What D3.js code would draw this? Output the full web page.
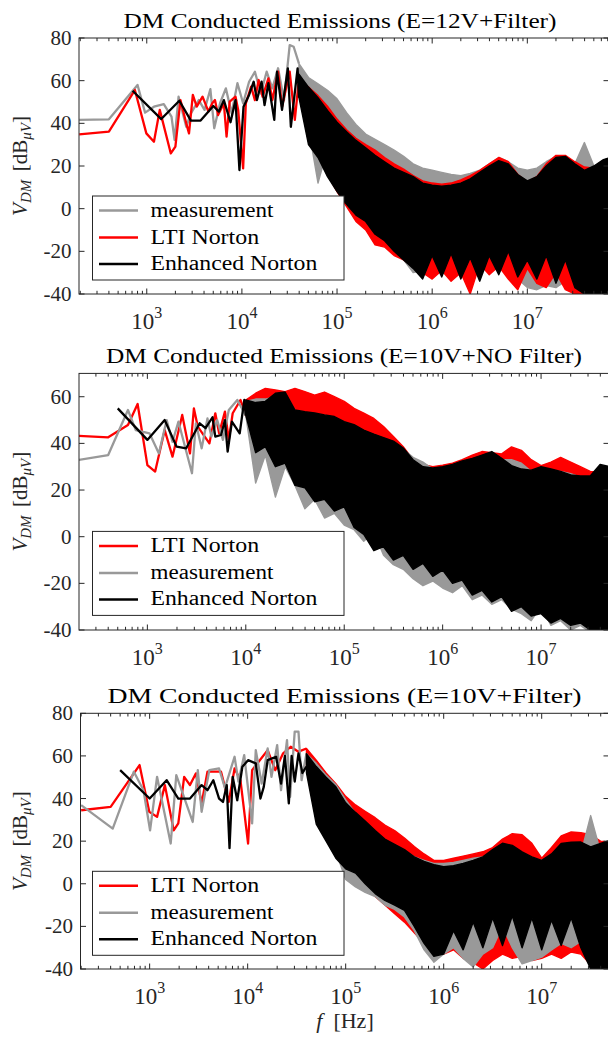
<!DOCTYPE html>
<html>
<head>
<meta charset="utf-8">
<script src="https://cdn.jsdelivr.net/npm/d3@7"></script>
<style>
  body { margin: 0; background: #fff; }
</style>
</head>
<body>
<svg id="chart" width="608" height="1040" font-family="'Liberation Serif', 'Times New Roman', serif"></svg>
<script>
// ---- panel 1: E=12V + Filter ----
const p1MeasF = [195, 400, 800, 960, 1190, 1510, 1820, 1960, 2160, 2600, 2910, 3520, 4050, 4660, 5120, 5890, 6780, 7800, 8980, 10300, 11900, 13700, 15800, 18200, 20900, 24000, 27700, 31800, 35000, 39800];
const p1MeasV = [41.6, 41.9, 58, 45, 47.8, 49, 43.1, 32.2, 52.5, 38.4, 44.7, 50.9, 46.3, 56, 37.7, 49.4, 56.4, 44.7, 58.8, 49.4, 59.5, 64.2, 54, 64.2, 56.4, 65.8, 50.9, 76.7, 75.9, 68];
const p1LtiF = [195, 400, 750, 990, 1190, 1370, 1790, 2000, 2260, 2600, 2780, 3050, 3350, 3860, 4450, 4880, 5210, 5620, 6460, 6900, 7440, 8570, 9140, 10300, 11000, 12500, 13700, 15000, 16500, 19000, 20900, 24000, 26400, 31800, 36000, 39800];
const p1LtiV = [34.8, 36.1, 55.6, 35.3, 31.4, 46.3, 25.9, 29.1, 50.9, 40, 35.3, 53.3, 47.8, 52.5, 45.5, 49.4, 50.9, 43.9, 49.4, 33.8, 50.2, 52.5, 46.3, 18.9, 49.4, 57.2, 50.9, 60.3, 52.5, 61.1, 50.9, 64.2, 47.8, 64.2, 41.6, 61];
const p1EnhF = [710, 1420, 2200, 2910, 3680, 5010, 5730, 6460, 7590, 8570, 9420, 10400, 11900, 13300, 14400, 16100, 17300, 19000, 21900, 23400, 26400, 30400, 32700, 38500, 39800];
const p1EnhV = [55.3, 42, 50.6, 41.3, 41.3, 48.1, 45.5, 50.9, 40.5, 50.9, 18.1, 47.8, 53.3, 59.5, 50.9, 59.5, 48.6, 58.8, 41.6, 64.2, 46.3, 65.8, 38.4, 65.8, 52];

// dense part above ~40 kHz: upper / lower envelope of each trace
const p1BandF = [3.98e4, 5.01e4, 6.31e4, 7.94e4, 1e5, 1.26e5, 1.58e5, 2e5, 2.51e5, 3.16e5, 3.98e5, 5.01e5, 6.31e5, 7.94e5, 1e6, 1.26e6, 1.58e6, 2e6, 2.51e6, 3.16e6, 3.98e6, 5.01e6, 6.31e6, 7.94e6, 1e7, 1.26e7, 1.58e7, 2e7, 2.51e7, 3.16e7, 3.98e7, 5.01e7, 6.31e7, 7.4e7];
const p1MeasHi = [68, 61.5, 58.5, 55.5, 51.5, 45, 39.5, 35, 32.5, 30, 27.5, 24.5, 21, 19, 18, 17, 16, 15.5, 16.5, 18, 21, 24, 22, 19, 18, 19, 22, 24.5, 24, 21, 31, 20, 19, 20];
const p1MeasLo = [60, 38, 12, 28, 20, 12, 5, -2, -8, -14, -20, -24, -30, -29, -25, -22, -24, -21, -23, -22, -24, -26, -30, -33, -37, -38, -36, -37, -34, -38, -40, -41, -41, -41];
const p1LtiHi = [61, 57, 53, 48, 42, 37, 33, 30, 27.5, 24, 21, 18.5, 15.5, 13, 12, 11.5, 12, 13.5, 15.5, 18, 21, 24, 22, 16, 12.5, 15, 21, 25, 25, 22, 19.5, 19, 20, 21];
const p1LtiLo = [55, 33, 26, 16, 8, 1, -6, -10, -17, -18, -22, -24, -27, -30, -33, -29, -34, -30, -40, -26, -31, -27, -33, -38, -28, -35, -37, -30, -38, -40, -41, -41, -41, -41];
const p1EnhHi = [63, 57, 52, 46, 40.5, 36, 32, 28.5, 25, 22, 19, 17, 15, 12, 11, 10.5, 11, 12, 14, 17, 20, 22.5, 21, 16, 13, 15, 20, 24, 24.5, 21, 18, 20, 23, 24];
const p1EnhLo = [52, 30, 24, 15, 8, 2, -3, -6, -12, -15, -20, -24, -28, -33, -22, -32, -21, -33, -23, -34, -22, -31, -20, -32, -24, -33, -22, -35, -24, -37, -40, -41, -41, -41];

// ---- panel 2: E=10V + NO Filter ----
const p2LtiF = [200, 400, 635, 796, 1000, 1200, 1500, 1800, 2260, 2710, 2970, 3250, 4270, 4900, 5360, 6140, 6720, 7360, 8830, 10000];
const p2LtiV = [43.2, 42.6, 47.9, 56.9, 30.7, 27.9, 45.7, 34.3, 52.2, 35.7, 55, 47.2, 40, 52.9, 44.3, 53.6, 41.5, 52.9, 58.6, 52];
const p2MeasF = [200, 400, 635, 762, 1050, 1310, 1570, 1800, 2070, 2840, 3110, 3560, 4080, 4470, 5120, 5860, 6720, 8200, 10000];
const p2MeasV = [32.9, 35, 54.3, 45.7, 44.3, 35.7, 50, 40.7, 49.3, 27.2, 48.6, 37.9, 50.7, 42.9, 50, 41.5, 54.3, 58.6, 52];
const p2EnhF = [500, 1000, 1500, 1980, 2480, 3400, 3900, 4590, 4900, 5610, 6140, 6540, 7230, 8670, 9660, 10000];
const p2EnhV = [55, 41.5, 50, 38.6, 37.9, 48.6, 46.5, 51.2, 42.9, 43.6, 50, 36.5, 49.3, 44.3, 58.6, 52];

const p2BandF = [1e4, 1.26e4, 1.58e4, 2e4, 2.51e4, 3.16e4, 3.98e4, 5.01e4, 6.31e4, 7.94e4, 1e5, 1.26e5, 1.58e5, 2e5, 2.51e5, 3.16e5, 3.98e5, 5.01e5, 6.31e5, 7.94e5, 1e6, 1.26e6, 1.58e6, 2e6, 2.51e6, 3.16e6, 3.98e6, 5.01e6, 6.31e6, 7.94e6, 1e7, 1.26e7, 1.58e7, 2e7, 2.51e7, 3.16e7, 3.98e7, 5.01e7];
const p2LtiHi = [58.6, 61.5, 63.6, 62.9, 62.2, 63.6, 62.2, 60.7, 62, 60, 58, 55, 53, 50.7, 47.2, 43, 38.6, 33, 31, 30, 30.7, 31.5, 33, 35, 36.5, 36, 35.5, 38.5, 37, 33, 30.5, 32, 34, 32, 30, 28, 27.5, 27];
const p2LtiLo = [52, 40, 36, 30, 36, 30, 26, 24, 20, 15, 12, 10, 6, 3, 0, -5, -9, -13, -15, -17, -14, -18, -19, -21, -19, -22, -24, -23, -27, -28, -31, -30, -32, -30, -34, -36, -38, -40];
const p2MeasHi = [58, 59, 59, 60, 61, 54, 53, 52.5, 52, 51, 49, 47.5, 45, 43.5, 42, 40.5, 37.5, 34, 32, 29, 29, 30, 31, 33, 34, 35, 33, 33, 31.5, 28, 28.5, 28, 28, 27, 25.5, 24, 26, 25];
const p2MeasLo = [52, 23, 35, 17, 30, 22, 12, 16, 8, 10, 5, 3, -2, 2, -8, -12, -14, -18, -21, -19, -22, -24, -21, -27, -25, -29, -27, -31, -33, -36, -30, -38, -36, -40, -38, -41, -41, -41];
const p2EnhHi = [58.6, 57.5, 58, 61.5, 62, 54.3, 53.6, 53, 52.2, 51.5, 49.3, 48, 45.7, 44, 42.5, 41, 38, 33, 30, 29.5, 30, 31, 32.5, 33.6, 35, 36.5, 33.6, 30.5, 29, 28.5, 30, 29, 28, 26.5, 26, 26, 31, 30];
const p2EnhLo = [52, 36, 38.6, 30, 31.5, 22, 21, 15, 16, 11, 12.8, 4, 1, -6, -4.3, -10, -8, -14, -11.4, -17, -14.3, -20, -18.6, -25, -23, -28, -25.7, -32, -30, -34, -33, -37, -35, -38, -37, -40, -41, -41];

// ---- panel 3: E=10V + Filter ----
const p3LtiF = [200, 400, 789, 991, 1190, 1430, 1760, 1960, 2250, 2580, 2960, 3390, 3890, 5350, 6410, 7350, 8440, 10100, 11100, 13300, 16000, 19100, 23000, 27500, 33000, 39800];
const p3LtiV = [34.5, 36.1, 55.7, 33.8, 31.4, 46.3, 25.1, 28.3, 50.2, 46.3, 51.8, 37.7, 52.6, 52.6, 38.4, 54.1, 48.6, 18.9, 53.3, 58, 62.7, 53.3, 61.2, 64.3, 62, 63.5];
const p3MeasF = [200, 420, 690, 865, 1010, 1190, 1640, 1870, 2750, 3100, 3390, 4060, 5110, 5860, 7350, 8050, 9220, 11100, 12100, 13900, 16000, 17500, 20000, 21900, 25200, 27100, 30200, 33000, 35500, 39800];
const p3MeasV = [36.9, 25.9, 52.6, 43.9, 25.1, 50.2, 18.9, 51, 29, 53.3, 33.8, 53.3, 54.1, 45, 59.6, 48, 60.4, 28.3, 62.7, 47, 63.5, 50.2, 65.1, 43.9, 67.4, 40.8, 71.4, 71.4, 48.6, 61.2];
const p3EnhF = [500, 1000, 1490, 1960, 2580, 3390, 3890, 4460, 5110, 5600, 6120, 6530, 7030, 7830, 8830, 10100, 12100, 13500, 14600, 16000, 19500, 21900, 24000, 26300, 28100, 30200, 33000, 36200, 39800];
const p3EnhV = [53.3, 40, 48.6, 40, 40, 46.3, 43.9, 48.6, 40, 38.4, 46.3, 16.7, 50.2, 39.2, 54.9, 58, 56.5, 40, 45.5, 58, 59.6, 47, 60, 37.7, 60, 48, 61.2, 52, 55];

const p3BandF = [3.98e4, 5.01e4, 6.31e4, 7.94e4, 1e5, 1.26e5, 1.58e5, 2e5, 2.51e5, 3.16e5, 3.98e5, 5.01e5, 6.31e5, 7.94e5, 1e6, 1.26e6, 1.58e6, 2e6, 2.51e6, 3.16e6, 3.98e6, 5.01e6, 6.31e6, 7.94e6, 1e7, 1.26e7, 1.58e7, 2e7, 2.51e7, 3.16e7, 3.98e7, 5.01e7];
const p3LtiHi = [63.5, 58, 52, 47, 41, 37, 34, 31, 27.5, 25, 21.5, 17.5, 14, 11, 11, 12, 13, 14, 15, 17, 21, 23.5, 23, 19, 12, 17, 22.5, 24.3, 24, 23, 20, 19.5];
const p3LtiLo = [55, 30, 22, 14, 8, 3, -2, -6, -10, -14, -18, -23, -28, -31, -33, -31, -35, -37, -40, -36, -33, -35, -34, -36, -35, -33, -35, -32, -33, -38, -41, -41];
const p3MeasHi = [61, 56.5, 51, 46.5, 39.5, 33, 28.3, 24.5, 20.4, 18, 15.5, 12.6, 11, 9.5, 9.5, 10, 11, 12, 12.6, 13.5, 15, 15, 13, 12, 11, 12, 13, 14, 14, 32, 15, 14];
const p3MeasLo = [55, 35, 28, 15, 2, -1.5, -4, -6, -10, -12, -15.6, -22, -31, -36.8, -33, -30, -35, -39, -33, -30, -20, -30, -37.6, -36, -34.4, -31, -28, -30, -27, -40, -41, -41];
const p3EnhHi = [61, 55, 50, 45.5, 38, 33.5, 29.5, 25, 21, 18.5, 16, 12.6, 10.5, 9, 8, 8.5, 9.5, 11, 12.6, 16, 19, 18, 15, 12.6, 11, 14, 18.9, 19.5, 19.6, 17.3, 18.9, 20.4];
const p3EnhLo = [52, 28, 20, 12, 7, 5, 0, -4.6, -7.8, -10, -12.5, -20, -28, -34, -33, -22, -31, -18, -30, -16, -29, -15, -30, -16, -31, -17, -29, -16, -30, -40, -41, -41];

// ---- axes / labels ----
const titles = ["DM Conducted Emissions (E=12V+Filter)", "DM Conducted Emissions (E=10V+NO Filter)", "DM Conducted Emissions (E=10V+Filter)"];
const yTicks1 = [-40, -20, 0, 20, 40, 60, 80];
const yTicks2 = [-40, -20, 0, 20, 40, 60];
const legendNames = { meas: "measurement", lti: "LTI Norton", enh: "Enhanced Norton" };
const colors = { meas: "#999999", lti: "#ff0000", enh: "#000000" };
const axisColor = "#262626";

function series(key, lineF, lineV, bandF, hi, lo) {
    return { key, lineF, lineV, bandF, hi, lo };
}

const panels = [
    { id: 1, title: titles[0], titleX: 340, titleW: 433, titleSize: 21,
      top: 38, bottom: 294, left: 79, right: 609,
      xDomain: [194, 7.22e7], yDomain: [-40, 80], yTicks: yTicks1,
      series: [
          series("meas", p1MeasF, p1MeasV, p1BandF, p1MeasHi, p1MeasLo),
          series("lti", p1LtiF, p1LtiV, p1BandF, p1LtiHi, p1LtiLo),
          series("enh", p1EnhF, p1EnhV, p1BandF, p1EnhHi, p1EnhLo)],
      legend: ["meas", "lti", "enh"] },
    { id: 2, title: titles[1], titleX: 344, titleW: 476, titleSize: 22,
      top: 373.4, bottom: 630, left: 79, right: 609,
      xDomain: [202, 4.9e7], yDomain: [-40, 70], yTicks: yTicks2,
      series: [
          series("lti", p2LtiF, p2LtiV, p2BandF, p2LtiHi, p2LtiLo),
          series("meas", p2MeasF, p2MeasV, p2BandF, p2MeasHi, p2MeasLo),
          series("enh", p2EnhF, p2EnhV, p2BandF, p2EnhHi, p2EnhLo)],
      legend: ["lti", "meas", "enh"] },
    { id: 3, title: titles[2], titleX: 344.5, titleW: 474, titleSize: 22,
      top: 713.3, bottom: 969, left: 80.5, right: 609,
      xDomain: [197, 4.86e7], yDomain: [-40, 80], yTicks: yTicks1,
      series: [
          series("lti", p3LtiF, p3LtiV, p3BandF, p3LtiHi, p3LtiLo),
          series("meas", p3MeasF, p3MeasV, p3BandF, p3MeasHi, p3MeasLo),
          series("enh", p3EnhF, p3EnhV, p3BandF, p3EnhHi, p3EnhLo)],
      legend: ["lti", "meas", "enh"], xLabel: true }
];

const svg = d3.select("#chart");

function drawPanel(p) {
    const x = d3.scaleLog().domain(p.xDomain).range([p.left, p.right]);
    const y = d3.scaleLinear().domain(p.yDomain).range([p.bottom, p.top]);
    const g = svg.append("g");

    svg.append("clipPath").attr("id", "clip" + p.id)
        .append("rect")
        .attr("x", p.left).attr("y", p.top)
        .attr("width", p.right - p.left).attr("height", p.bottom - p.top);

    const plot = g.append("g").attr("clip-path", `url(#clip${p.id})`);
    const line = d3.line().x(d => x(d[0])).y(d => y(d[1]));

    p.series.forEach(s => {
        const c = colors[s.key];
        const upper = s.bandF.map((f, i) => [f, s.hi[i]]);
        const lower = s.bandF.map((f, i) => [f, s.lo[i]]).reverse();
        plot.append("path")
            .attr("d", line(upper.concat(lower)) + "Z")
            .attr("fill", c).attr("stroke", c)
            .attr("stroke-width", 1.4).attr("stroke-linejoin", "round");
        plot.append("path")
            .attr("d", line(s.lineF.map((f, i) => [f, s.lineV[i]])))
            .attr("fill", "none").attr("stroke", c)
            .attr("stroke-width", 2.3).attr("stroke-linejoin", "round");
    });

    // box
    g.append("rect")
        .attr("x", p.left).attr("y", p.top)
        .attr("width", p.right - p.left).attr("height", p.bottom - p.top)
        .attr("fill", "none").attr("stroke", axisColor).attr("stroke-width", 1);

    // x ticks (log, inward, both sides)
    x.ticks().forEach(t => {
        const lg = Math.log10(t);
        const major = Math.abs(lg - Math.round(lg)) < 1e-6;
        const len = major ? 5.5 : 3.2;
        const xp = x(t);
        g.append("line").attr("x1", xp).attr("x2", xp)
            .attr("y1", p.bottom).attr("y2", p.bottom - len)
            .attr("stroke", axisColor).attr("stroke-width", 1);
        g.append("line").attr("x1", xp).attr("x2", xp)
            .attr("y1", p.top).attr("y2", p.top + len)
            .attr("stroke", axisColor).attr("stroke-width", 1);
        if (major) {
            const tx = g.append("text")
                .attr("x", xp).attr("y", p.bottom + 35)
                .attr("text-anchor", "middle")
                .attr("fill", axisColor)
                .style("font-size", "23px");
            tx.append("tspan").text("10");
            tx.append("tspan").attr("dy", -11).style("font-size", "16px").text(Math.round(lg));
        }
    });

    // y ticks
    p.yTicks.forEach(v => {
        const yp = y(v);
        g.append("line").attr("x1", p.left).attr("x2", p.left + 5.5)
            .attr("y1", yp).attr("y2", yp).attr("stroke", axisColor);
        g.append("line").attr("x1", p.right - 5.5).attr("x2", p.right)
            .attr("y1", yp).attr("y2", yp).attr("stroke", axisColor);
        g.append("text")
            .attr("x", p.left - 7.5).attr("y", yp + 7)
            .attr("text-anchor", "end")
            .attr("fill", axisColor)
            .style("font-size", "21px")
            .text(v);
    });

    // title
    g.append("text")
        .attr("x", p.titleX).attr("y", p.top - 10.5)
        .attr("text-anchor", "middle")
        .attr("fill", "#000")
        .attr("textLength", p.titleW).attr("lengthAdjust", "spacingAndGlyphs")
        .style("font-size", p.titleSize + "px")
        .text(p.title);

    // y label: V_DM [dB_uV]
    const yl = g.append("text")
        .attr("transform", `translate(27,${(p.top + p.bottom) / 2}) rotate(-90)`)
        .attr("text-anchor", "middle")
        .attr("fill", axisColor)
        .style("font-size", "21px");
    yl.append("tspan").style("font-style", "italic").text("V");
    yl.append("tspan").attr("dy", 4).style("font-style", "italic").style("font-size", "15px").text("DM");
    yl.append("tspan").attr("dy", -4).text("\u2009\u2009[dB");
    yl.append("tspan").attr("dy", 4).style("font-style", "italic").style("font-size", "15px").text("\u03BCV");
    yl.append("tspan").attr("dy", -4).text("]");

    // legend
    const lx = 92.5, ly = p.top + 158;
    const lg = g.append("g");
    lg.append("rect").attr("x", lx).attr("y", ly)
        .attr("width", 251.5).attr("height", 84)
        .attr("fill", "#fff").attr("stroke", axisColor).attr("stroke-width", 1);
    const rowY = [14.5, 41.5, 68];
    const textW = { meas: 123, lti: 108.6, enh: 166.8 };
    p.legend.forEach((k, i) => {
        const yy = ly + rowY[i];
        lg.append("line").attr("x1", lx + 6.5).attr("x2", lx + 45.5)
            .attr("y1", yy).attr("y2", yy)
            .attr("stroke", colors[k]).attr("stroke-width", 2.5);
        lg.append("text").attr("x", lx + 58).attr("y", yy + 6)
            .attr("fill", "#000")
            .attr("textLength", textW[k]).attr("lengthAdjust", "spacingAndGlyphs")
            .style("font-size", "20px")
            .text(legendNames[k]);
    });

    if (p.xLabel) {
        const xl = g.append("text")
            .attr("x", 345).attr("y", p.bottom + 59)
            .attr("text-anchor", "middle")
            .attr("fill", axisColor)
            .style("font-size", "22px");
        xl.append("tspan").style("font-style", "italic").text("f");
        xl.append("tspan").text("\u2002[Hz]");
    }
}

panels.forEach(drawPanel);
</script>
</body>
</html>
